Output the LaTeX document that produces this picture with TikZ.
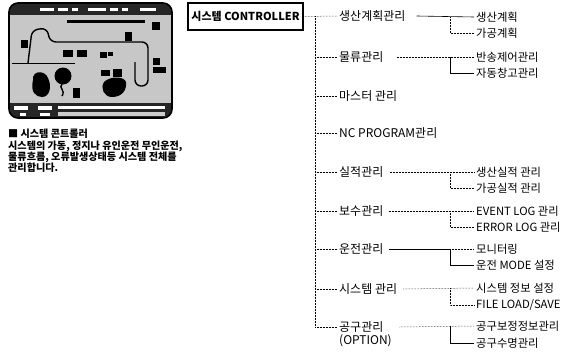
\documentclass[tikz,border=0pt]{standalone}
\usepackage{fontspec}
\setmainfont{Noto Sans CJK KR}
\usetikzlibrary{positioning}

\begin{document}
\begin{tikzpicture}[x=1pt,y=-1pt,
  title/.style={draw,line width=1.2pt,font=\bfseries\fontsize{11}{12}\selectfont,minimum width=115pt,minimum height=27pt,inner sep=2pt},
  item/.style={anchor=west,font=\fontsize{12}{13}\selectfont,inner sep=2pt},
  sub/.style={anchor=west,font=\fontsize{11.3}{12}\selectfont,inner sep=2pt},
  note/.style={anchor=west,font=\bfseries\fontsize{10.1}{11}\selectfont,inner sep=0pt},
  link/.style={line width=0.5pt,densely dotted},
  plain/.style={line width=0.6pt},
  blob/.style={fill=black}
]
  \useasboundingbox (0,0) rectangle (564,356);

  % controller screen
  \begin{scope}
    \clip[rounded corners=9pt] (9,3) rectangle (172,118);
    \fill[black!22] (9,3) rectangle (172,118);
    \fill[black!85] (9,3) rectangle (172,15);
    \fill[black!85] (9,103) rectangle (172,118);
  \end{scope}
  \draw[line width=1.6pt,rounded corners=9pt] (9,3) rectangle (172,118);
  \foreach \x/\w in {40/14,58/10,72/6,88/18,110/8,122/6,140/16}
    \fill[white] (\x,8) rectangle (\x+\w,11);
  \fill[black] (67,20) rectangle (145,23);
  \fill[white] (14,106) rectangle (28,110);
  \fill[white] (38,106) rectangle (52,110);
  \fill[white] (58,106) rectangle (165,109);
  \fill[white] (20,113) rectangle (26,116);
  \fill[white] (40,113) rectangle (50,116);
  \fill[white!80!black] (58,112) rectangle (165,116);
  % track
  \draw[line width=0.7pt] (12,63) -- (75,63);
  \draw[line width=1.4pt,rounded corners=6pt]
    (28,63) -- (32,30) -- (47,28) -- (50,42) -- (148,42) -- (148,86) -- (135,86) -- (135,62);
  % machines
  \fill[blob] (21,40) rectangle (28,48);
  \fill[blob] (125,32) rectangle (132,41);
  \fill[blob] (63,50) rectangle (73,57);
  \fill[blob] (77,50) rectangle (87,57);
  \fill[blob] (100,52) rectangle (107,58);
  \fill[blob] (108,52) rectangle (113,56);
  \fill[blob] (152,22) rectangle (160,30);
  \fill[blob] (153,58) rectangle (160,65);
  \fill[blob] (153,67) rectangle (166,73);
  \fill[blob] (33,80) .. controls (32,70) and (45,70) .. (48,78)
    .. controls (52,86) and (50,97) .. (42,97) .. controls (36,97) and (30,92) .. (33,80);
  \fill[blob] (63,76) circle (8.5);
  \draw[line width=1.4pt] (62,84) .. controls (58,88) and (66,90) .. (62,96);
  \fill[blob] (73,88) rectangle (80,98);
  \fill[blob] (104,82) .. controls (110,76) and (124,76) .. (126,82)
    .. controls (127,90) and (122,97) .. (112,97) .. controls (104,97) and (100,88) .. (104,82);
  \fill[blob] (101,70) rectangle (110,76);
  \fill[blob] (113,69) rectangle (122,77);

  % caption
  \node[note] (cap) at (8,134) {■ 시스템 콘트롤러};
  \node[note] (cap1) at (8,146) {시스템의 가동, 정지나 유인운전 무인운전,};
  \node[note] (cap2) at (8,157) {물류흐름, 오류발생상태등 시스템 전체를};
  \node[note] (cap3) at (8,168) {관리합니다.};

  % controller tree
  \node[title] (ctrl) at (245.5,16.5) {시스템 CONTROLLER};
  \coordinate (trunk) at (315,0);
  \coordinate (fork) at (450,0);

  \node[item] (plan) at (337,16) {생산계획관리};
  \node[item] (logis) at (337,57) {물류관리};
  \node[item] (master) at (337,96) {마스터 관리};
  \node[item] (ncprog) at (337,133) {NC PROGRAM관리};
  \node[item] (perf) at (337,172) {실적관리};
  \node[item] (maint) at (337,211) {보수관리};
  \node[item] (oper) at (337,249) {운전관리};
  \node[item] (sysm) at (337,289) {시스템 관리};
  \node[item] (tool) at (337,327) {공구관리};
  \node[item,below=-2pt of tool.south west,anchor=north west] (opt) {(OPTION)};

  \node[sub] (plan1) at (474,17) {생산계획};
  \node[sub] (plan2) at (474,33) {가공계획};
  \node[sub] (logis1) at (474,57) {반송제어관리};
  \node[sub] (logis2) at (474,73) {자동창고관리};
  \node[sub] (perf1) at (474,172) {생산실적 관리};
  \node[sub] (perf2) at (474,188) {가공실적 관리};
  \node[sub] (maint1) at (474,211) {EVENT LOG 관리};
  \node[sub] (maint2) at (474,227) {ERROR LOG 관리};
  \node[sub] (oper1) at (474,249) {모니터링};
  \node[sub] (oper2) at (474,265) {운전 MODE 설정};
  \node[sub] (sysm1) at (474,288) {시스템 정보 설정};
  \node[sub] (sysm2) at (474,305) {FILE LOAD/SAVE};
  \node[sub] (tool1) at (474,326) {공구보정정보관리};
  \node[sub] (tool2) at (474,343) {공구수명관리};

  \draw[link] (ctrl.east) -- (plan.west);
  \draw[link] (plan.west -| trunk) -- (tool.west -| trunk);
  \draw[link] (logis.west -| trunk) -- (logis.west);
  \draw[link] (master.west -| trunk) -- (master.west);
  \draw[link] (ncprog.west -| trunk) -- (ncprog.west);
  \draw[link] (perf.west -| trunk) -- (perf.west);
  \draw[link] (maint.west -| trunk) -- (maint.west);
  \draw[link] (oper.west -| trunk) -- (oper.west);
  \draw[link] (sysm.west -| trunk) -- (sysm.west);
  \draw[link] (tool.west -| trunk) -- (tool.west);

  \draw[plain] ([xshift=9pt]plan.east) -- (plan1.west);
  \draw[link] (plan1.west -| fork) |- (plan2.west);
  \draw[link] ([xshift=11pt]logis.east) -- (logis1.west);
  \draw[plain] (logis1.west -| fork) |- (logis2.west);
  \draw[link] ([xshift=4pt]perf.east) -- (perf1.west);
  \draw[link] (perf1.west -| fork) |- (perf2.west);
  \draw[link] ([xshift=3pt]maint.east) -- (maint1.west);
  \draw[link] (maint1.west -| fork) |- (maint2.west);
  \draw[plain] ([xshift=3pt]oper.east) -- (oper1.west -| fork);
  \draw[link] (oper1.west -| fork) -- (oper1.west);
  \draw[plain] (oper1.west -| fork) |- (oper2.west);
  \draw[link] ([xshift=4pt]sysm.east) -- (sysm1.west);
  \draw[link] (sysm1.west -| fork) |- (sysm2.west);
  \draw[link] ([xshift=14pt]tool.east) -- (tool1.west);
  \draw[plain] (tool1.west -| fork) |- (tool2.west);
\end{tikzpicture}
\end{document}
